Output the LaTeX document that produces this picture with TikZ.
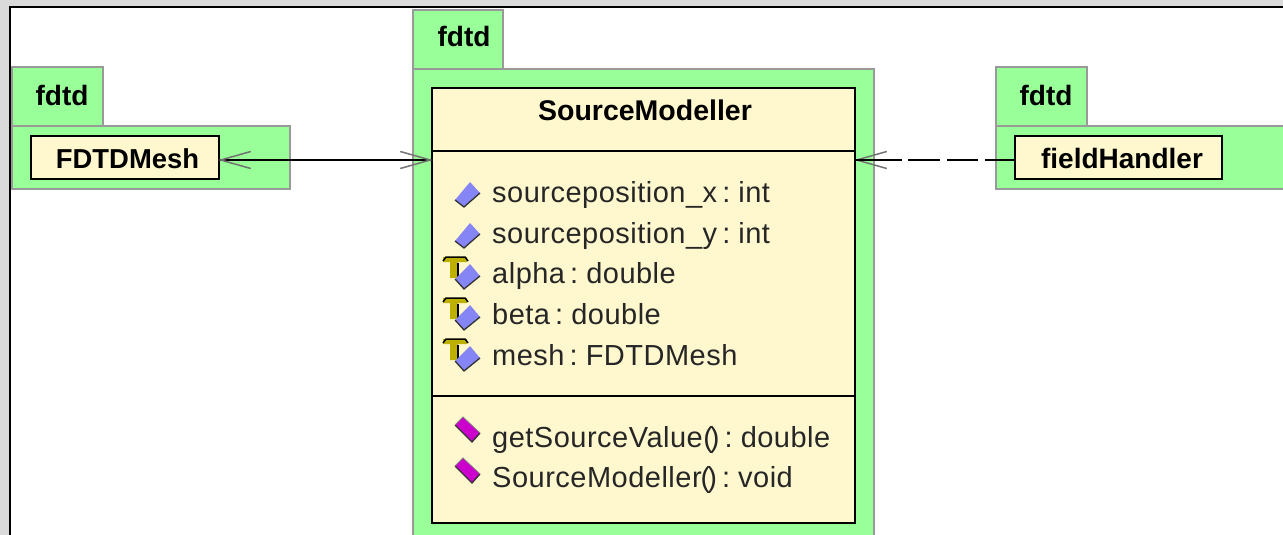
\documentclass[tikz,border=0pt]{standalone}
\usepackage{fontspec}
\setmainfont{Liberation Sans}
\newfontfamily\rowfont[LetterSpace=1.7,WordSpace=0.6]{Liberation Sans}
\usetikzlibrary{arrows.meta}
\definecolor{pkggreen}{HTML}{99FF99}
\definecolor{pkgedge}{HTML}{999999}
\definecolor{classfill}{HTML}{FFF8CF}
\definecolor{backgray}{HTML}{DADADA}
\definecolor{attrblue}{HTML}{8585F5}
\definecolor{opmag}{HTML}{CC00CC}
\definecolor{finalolive}{HTML}{BDB000}
\tikzset{
  pkg/.style={draw=pkgedge,fill=pkggreen,line width=2pt},
  classbox/.style={draw=black,fill=classfill,line width=2pt,inner sep=0pt,outer sep=0pt,anchor=north west},
  pkglabel/.style={font=\bfseries\fontsize{28}{30}\selectfont,inner sep=0pt,anchor=base},
  rowtext/.style={font=\rowfont\fontsize{29}{30}\selectfont,text=black!85,inner sep=0pt,anchor=base west},
  assoc/.style={line width=2pt,black},
  barb/.style={{Straight Barb[length=30pt,width=17pt,line width=1.5pt,color=black!55]}-},
  barbboth/.style={{Straight Barb[length=30pt,width=17pt,line width=1.5pt,color=black!55]}-{Straight Barb[length=30pt,width=17pt,line width=1.5pt,color=black!55]}},
}
\newcommand{\attricon}[1]{%
  \fill[attrblue] (455,#1+7) -- (470,#1-11) -- (480,#1) -- (464,#1+14) -- cycle;
  \draw[black!80,line width=1.3pt] (455,#1+7) -- (464,#1+14) -- (480,#1);
}
\newcommand{\finalattricon}[1]{%
  \fill[finalolive] (443,#1-18) -- (467,#1-18) -- (467,#1-13) -- (458,#1-13) -- (458,#1+3) -- (450,#1+3) -- (450,#1-13) -- (443,#1-13) -- cycle;
  \draw[black,line width=1.5pt] (443,#1-14) -- (446,#1-18) -- (465,#1-18) -- (468,#1-14);
  \draw[black,line width=1.2pt] (458,#1-12) -- (458,#1+3);
  \fill[attrblue] (455,#1+4) -- (470,#1-11) -- (480,#1+1) -- (464,#1+14) -- cycle;
  \draw[black!80,line width=1.3pt] (455,#1+4) -- (464,#1+14) -- (480,#1+1);
}
\newcommand{\opicon}[1]{%
  \fill[opmag] (455,#1-3) -- (463,#1-11) -- (480,#1+5) -- (472,#1+14) -- cycle;
  \draw[black!80,line width=1.3pt] (455,#1-3) -- (472,#1+14) -- (480,#1+5);
  \draw[black!50,line width=.8pt] (455,#1-3) -- (463,#1-11) -- (480,#1+5);
}
\begin{document}
\begin{tikzpicture}[x=1pt,y=-1pt]
\useasboundingbox (0,0) rectangle (1283,535);
\clip (0,0) rectangle (1283,535);
\fill[backgray] (0,0) rectangle (1283,535);
\fill[white] (10,7) rectangle (1290,540);
\draw[black,line width=2pt] (10,540) -- (10,7) -- (1290,7);
% packages
\draw[pkg] (12,67) rectangle (103,126);
\draw[pkg] (12,126) rectangle (290,189);
\draw[pkg] (413,10) rectangle (503,69);
\draw[pkg] (413,69) rectangle (874,545);
\draw[pkg] (996,67) rectangle (1087,126);
\draw[pkg] (996,126) rectangle (1295,189);
\node[pkglabel] (pl1) at (62,106) {fdtd};
\node[pkglabel] (pl2) at (464,47) {fdtd};
\node[pkglabel] (pl3) at (1046,106) {fdtd};
% classes
\node[classbox,minimum width=188pt,minimum height=43pt] (mesh) at (31,136) {};
\node[classbox,minimum width=423pt,minimum height=435pt] (src) at (432,88) {};
\node[classbox,minimum width=207pt,minimum height=43pt] (field) at (1015,136) {};
\node[pkglabel,font=\bfseries\fontsize{27.4}{30}\selectfont] (meshname) at (127.5,168) {FDTDMesh};
\node[pkglabel] (fieldname) at (1122,168) {fieldHandler};
\node[pkglabel,font=\bfseries\fontsize{28.5}{30}\selectfont] (srcname) at (645,120) {SourceModeller};
\draw[black,line width=2pt] (src.west |- 0,151) coordinate (d1a) -- (src.east |- 0,151) coordinate (d1b);
\draw[black,line width=2pt] (src.west |- 0,396) coordinate (d2a) -- (src.east |- 0,396) coordinate (d2b);
% rows
\node[rowtext] (r1) at (492,202) {sourceposition\_x : int};
\node[rowtext] (r2) at (492,243) {sourceposition\_y : int};
\node[rowtext] (r3) at (492,283) {alpha : double};
\node[rowtext] (r4) at (492,324) {beta : double};
\node[rowtext] (r5) at (492,365) {mesh : FDTDMesh};
\node[rowtext] (r6) at (492,447) {getSourceValue(\kern-3pt) : double};
\node[rowtext] (r7) at (492,487) {SourceModeller\kern-1pt(\kern-3pt) : void};
\attricon{193}
\attricon{234}
\finalattricon{275}
\finalattricon{316}
\finalattricon{357}
\opicon{428}
\opicon{469}
% connectors
\coordinate (c1) at (mesh.east |- 0,160);
\coordinate (c2) at (src.west |- 0,160);
\coordinate (c3) at (src.east |- 0,160);
\coordinate (c4) at (field.west |- 0,160);
\coordinate (c3b) at (900,160);
\draw[assoc] (c1) -- (c2);
\draw[assoc,barbboth,shorten <=-1pt,shorten >=-1pt] (c1) -- (c2);
\draw[assoc,barb,shorten <=-1pt] (c3) -- (c3b);
\draw[assoc,dash pattern=on 47pt off 6pt on 32pt off 7pt on 31pt off 7pt on 40pt] (c3) -- (c4);
\end{tikzpicture}
\end{document}
